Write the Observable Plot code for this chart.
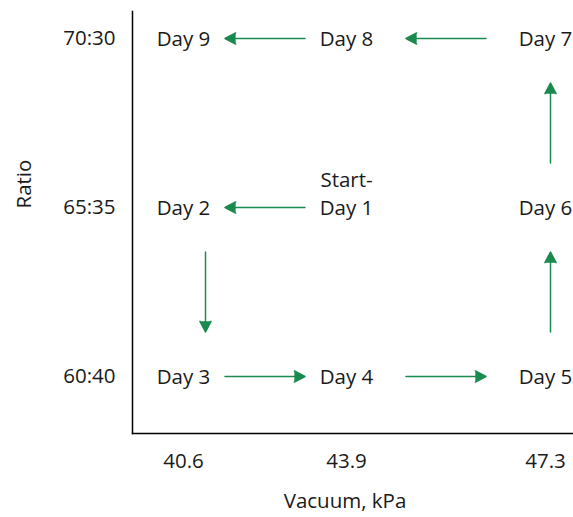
<!DOCTYPE html>
<html>
<head>
<meta charset="utf-8">
<script src="https://cdn.jsdelivr.net/npm/d3@7"></script>
<script src="https://cdn.jsdelivr.net/npm/@observablehq/plot@0.6"></script>
<style>
  html, body { margin: 0; padding: 0; background: #fff; }
</style>
</head>
<body>
<div id="chart"></div>
<script>
// Data
const days = ["Start-\nDay 1", "Day 2", "Day 3", "Day 4", "Day 5", "Day 6", "Day 7", "Day 8", "Day 9"];
const vacuum = [43.9, 40.6, 40.6, 43.9, 47.3, 47.3, 47.3, 43.9, 40.6];
const ratio = ["65:35", "65:35", "60:40", "60:40", "60:40", "65:35", "70:30", "70:30", "70:30"];
const vacuumTicks = [40.6, 43.9, 47.3];
const ratioTicks = ["60:40", "65:35", "70:30"];

const rows = days.map((d, i) => ({day: d, vacuum: vacuum[i], ratio: ratio[i]}));
const steps = rows.slice(1).map((r, i) => ({from: rows[i], to: r}));

const W = 573, H = 517;
const xOpts = {type: "linear", domain: vacuumTicks, range: [183, 346, 545]};
const yOpts = {type: "point", domain: ratioTicks, range: [376, 38], padding: 0};
const xs = Plot.scale({x: xOpts});
const ys = Plot.scale({y: yOpts});
const green = "#1a8a4e";
const ink = "#1a1a1a";
const shaft = 80;

const arrowMarks = steps.map((s) => {
  const vertical = s.from.vacuum === s.to.vacuum;
  const gap = vertical
    ? Math.abs(ys.apply(s.from.ratio) - ys.apply(s.to.ratio))
    : Math.abs(xs.apply(s.from.vacuum) - xs.apply(s.to.vacuum));
  const inset = (gap - shaft) / 2;
  const dx = vertical ? (s.from.vacuum === vacuumTicks[0] ? 22 : 5) : 0;
  return Plot.arrow([s], {
    x1: (d) => d.from.vacuum, y1: (d) => d.from.ratio,
    x2: (d) => d.to.vacuum, y2: (d) => d.to.ratio,
    insetStart: inset, insetEnd: inset, dx,
    stroke: green, fill: green, strokeWidth: 1.5,
    headLength: 12, headAngle: 55, strokeLinejoin: "miter"
  });
});

const plot = Plot.plot({
  width: W, height: H,
  marginLeft: 132, marginTop: 11, marginBottom: 84, marginRight: 0,
  style: {fontFamily: "'Open Sans', sans-serif", fontSize: "20.5px", color: ink, background: "#fff"},
  x: {...xOpts, axis: null},
  y: {...yOpts, axis: null},
  marks: [
    Plot.axisX({ticks: vacuumTicks, tickFormat: (d) => d.toFixed(1), tickSize: 0, tickPadding: 20, label: null, fill: ink}),
    Plot.axisY({tickSize: 0, tickPadding: 17, label: null, fill: ink}),
    Plot.frame({anchor: "left", stroke: "#000", strokeWidth: 1.5}),
    Plot.frame({anchor: "bottom", stroke: "#000", strokeWidth: 1.5}),
    Plot.text(rows, {x: "vacuum", y: "ratio", text: "day", lineAnchor: "bottom", dy: 7.5, lineHeight: 1.38, fill: ink}),
    ...arrowMarks,
    Plot.text(["Ratio"], {frameAnchor: "left", dx: -108, dy: -14, rotate: -90, fill: ink}),
    Plot.text(["Vacuum, kPa"], {frameAnchor: "bottom", dx: -8, dy: 74, fill: ink})
  ]
});
document.getElementById("chart").appendChild(plot);
</script>
</body>
</html>
